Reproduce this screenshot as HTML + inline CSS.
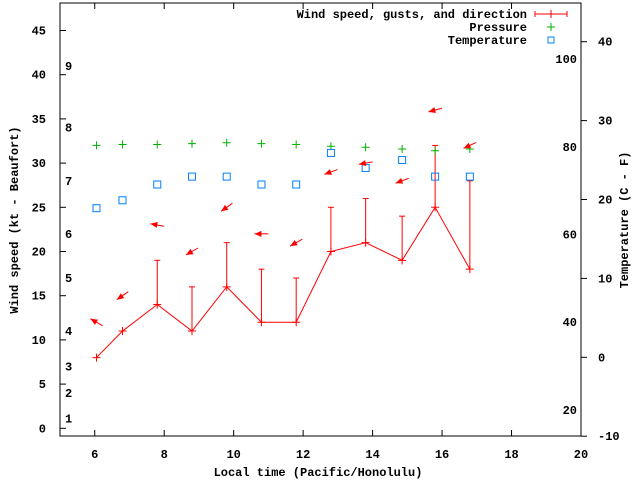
<!DOCTYPE html>
<html><head><meta charset="utf-8"><style>
body{margin:0;background:#fff}
svg text{font-family:"Liberation Mono",monospace;font-weight:bold;font-size:12px;fill:#000}
</style></head><body>
<svg id="c" width="640" height="480" xmlns="http://www.w3.org/2000/svg"></svg>
<script>
const times=[6.05,6.8,7.8,8.8,9.8,10.8,11.8,12.8,13.8,14.85,15.8,16.8];
const speeds=[8,11,14,11,16,12,12,20,21,19,25,18];
const gusts=[null,null,19,16,21,18,17,25,26,24,32,28];
const pressure=[32,32.1,32.1,32.2,32.3,32.2,32.1,31.9,31.8,31.6,31.4,31.6];
const tempC=[18.9,19.9,21.9,22.9,22.9,21.9,21.9,25.9,24,25,22.9,22.9];
const arrowY=[12,15,23,20,25,22,21,29,30,28,36,32];
const arrowDir=[120,55,100,60,55,90,60,70,80,70,75,65];
const xTicks=[6,8,10,12,14,16,18,20];
const yTicks=[0,5,10,15,20,25,30,35,40,45];
const cTicks=[-10,0,10,20,30,40];
const fTicks=[20,40,60,80,100];
const bftLabels=[1,2,3,4,5,6,7,8,9];
const bftY=[1.1,4,7,11,17,22,28,34,41];
const L=60,R=581,T=3,B=436;
const X=t=>L+(t-5)*(R-L)/15;
const Y=v=>428.3-v*8.84;
const YC=c=>357.3-c*7.89;
const YF=f=>YC((f-32)*5/9);
const svg=document.getElementById('c');
const NS='http://www.w3.org/2000/svg';
function mk(tag,attrs,name,txt){const e=document.createElementNS(NS,tag);for(const k in attrs)e.setAttribute(k,attrs[k]);


if(txt!==undefined)e.textContent=txt;svg.appendChild(e);return e;}
mk('rect',{x:L,y:T,width:R-L,height:B-T,fill:'none',stroke:'#000','stroke-width':1},'plot-frame');
xTicks.forEach(t=>{mk('line',{x1:X(t),x2:X(t),y1:B,y2:B-6,stroke:'#000'},'x-tick');mk('line',{x1:X(t),x2:X(t),y1:T,y2:T+6,stroke:'#000'},'x-tick-top');
mk('text',{x:X(t),y:B+22,'text-anchor':'middle'},'x-tick-label',t);});
yTicks.forEach(v=>{mk('line',{x1:L,x2:L+6,y1:Y(v),y2:Y(v),stroke:'#000'},'y-tick');
mk('text',{x:L-14,y:Y(v)+4,'text-anchor':'end'},'y-tick-label',v);});
cTicks.forEach(c=>{mk('line',{x1:R,x2:R+6,y1:YC(c),y2:YC(c),stroke:'#000'},'y2-tick');
mk('text',{x:R+17,y:YC(c)+4,'text-anchor':'start'},'y2-tick-label',c);});
fTicks.forEach(f=>mk('text',{x:R-4,y:YF(f)+4,'text-anchor':'end'},'fahrenheit-label',f));
bftLabels.forEach((b,i)=>mk('text',{x:65,y:Y(bftY[i])+4},'beaufort-label',b));
mk('text',{x:318,y:476,'text-anchor':'middle'},'x-axis-title','Local time (Pacific/Honolulu)');
mk('text',{x:0,y:0,'text-anchor':'middle',transform:'translate(18,220) rotate(-90)'},'y-axis-title','Wind speed (kt - Beaufort)');
mk('text',{x:0,y:0,'text-anchor':'middle',transform:'translate(628,220) rotate(-90)'},'y2-axis-title','Temperature (C - F)');
// legend
mk('text',{x:527,y:18,'text-anchor':'end'},'legend-wind-label','Wind speed, gusts, and direction');
mk('line',{x1:535,x2:567,y1:14,y2:14,stroke:'red'},'legend-wind-line');
mk('line',{x1:535,x2:535,y1:11,y2:17,stroke:'red'},'legend-wind-cap');
mk('line',{x1:567,x2:567,y1:11,y2:17,stroke:'red'},'legend-wind-cap');
mk('line',{x1:551,x2:551,y1:10,y2:18,stroke:'red'},'legend-wind-mark');
mk('text',{x:527,y:31,'text-anchor':'end'},'legend-pressure-label','Pressure');
mk('path',{d:'M547 27h8M551 23v8',stroke:'#00b000'},'legend-pressure-mark');
mk('text',{x:527,y:44,'text-anchor':'end'},'legend-temperature-label','Temperature');
mk('rect',{x:548,y:37,width:6,height:6,fill:'none',stroke:'#0080ff'},'legend-temperature-mark');
// wind line
mk('polyline',{points:times.map((t,i)=>X(t)+','+Y(speeds[i])).join(' '),fill:'none',stroke:'red'},'wind-speed-line');
times.forEach((t,i)=>{const x=X(t),y=Y(speeds[i]);
mk('path',{d:`M${x-4} ${y}h8M${x} ${y-4}v8`,stroke:'red'},'wind-speed-point');
if(gusts[i]!==null){mk('line',{x1:x,x2:x,y1:y,y2:Y(gusts[i]),stroke:'red'},'gust-bar');
mk('line',{x1:x-3,x2:x+3,y1:Y(gusts[i]),y2:Y(gusts[i]),stroke:'red'},'gust-cap');}
mk('path',{d:`M${x-4} ${Y(pressure[i])}h8M${x} ${Y(pressure[i])-4}v8`,stroke:'#00b000'},'pressure-point');
mk('rect',{x:x-3.5,y:YC(tempC[i])-3.5,width:7,height:7,fill:'none',stroke:'#0080ff'},'temperature-point');
// arrow: points toward where wind blows (from dir)
const a=arrowDir[i]*Math.PI/180,dx=Math.sin(a),dy=-Math.cos(a),cx=x,cy=Y(arrowY[i]);
const hx=cx-dx*7,hy=cy-dy*7,tx=cx+dx*7,ty=cy+dy*7;
mk('line',{x1:tx,y1:ty,x2:hx,y2:hy,stroke:'red'},'direction-arrow');
const px=-dy,py=dx;
mk('polygon',{points:`${hx},${hy} ${hx+dx*7+px*3},${hy+dy*7+py*3} ${hx+dx*7-px*3},${hy+dy*7-py*3}`,fill:'red'},'direction-arrowhead');
});
</script>
</body></html>
